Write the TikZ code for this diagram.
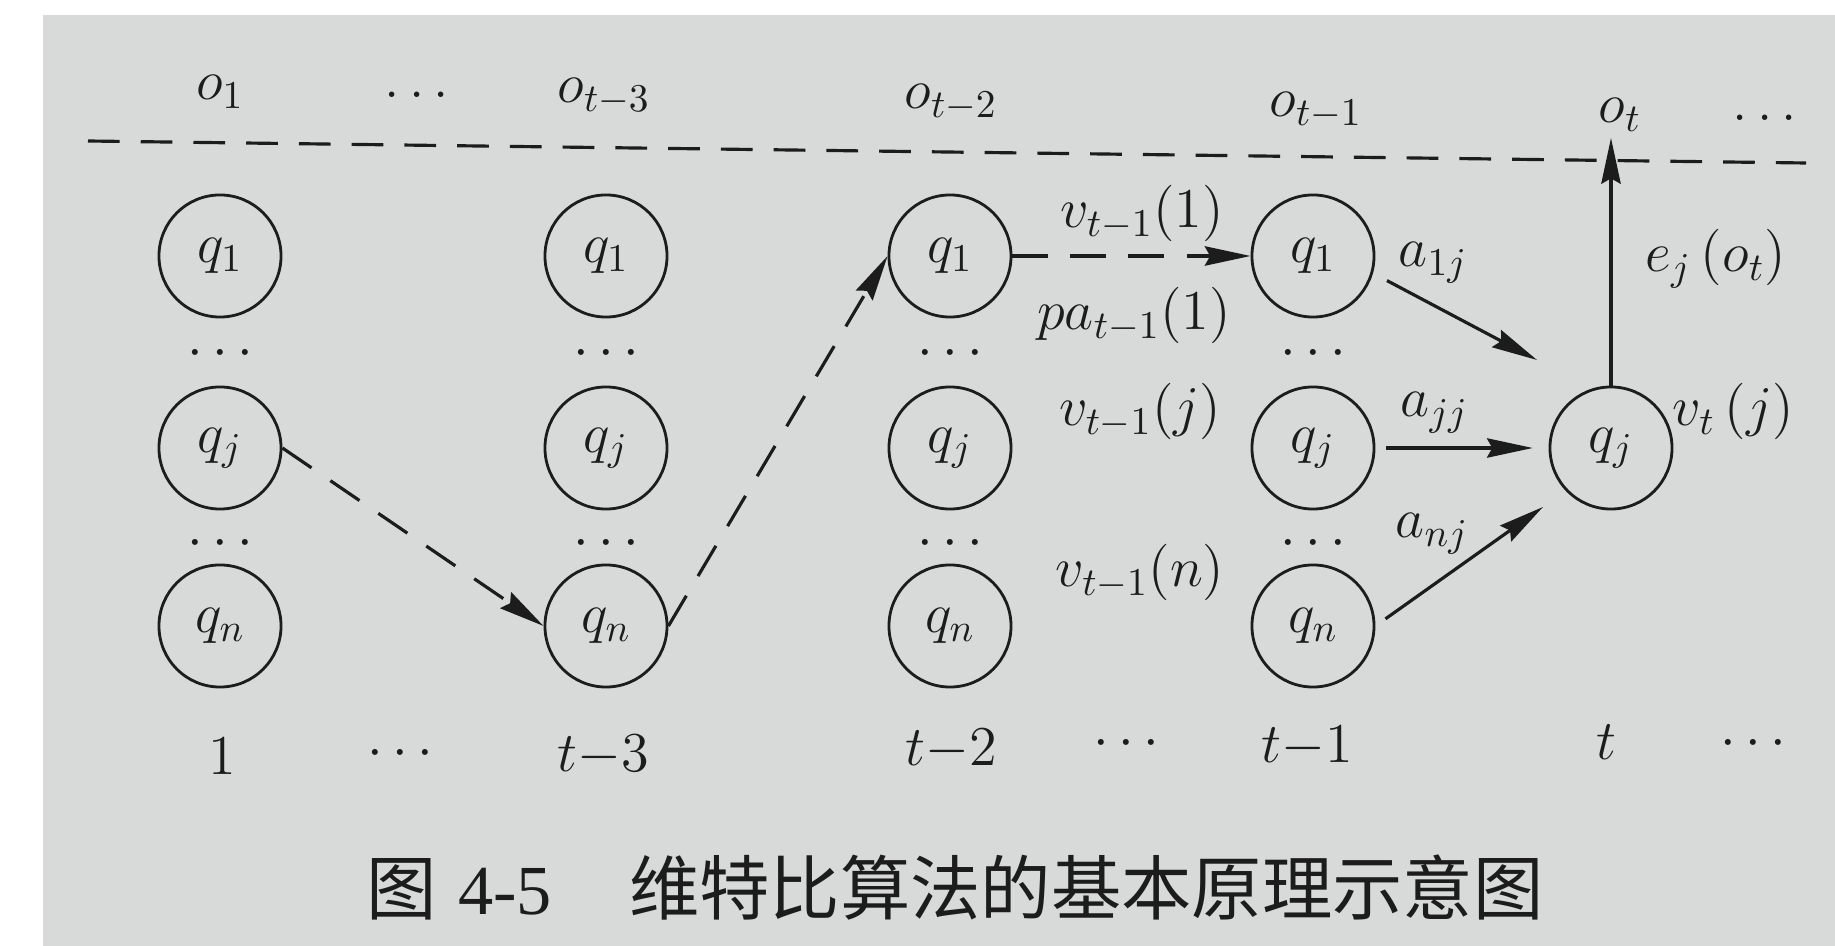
\RequirePackage{fix-cm}
\documentclass[tikz,border=0pt]{standalone}
\usepackage{fontspec}
\setmainfont{Liberation Serif}
\newfontfamily\cjk{Noto Sans CJK SC}
\usetikzlibrary{arrows.meta}
\definecolor{paper}{RGB}{216,217,217}
\definecolor{ink}{RGB}{28,28,28}

\begin{document}
\begin{tikzpicture}[x=0.01cm,y=-0.01cm,font=\fontsize{16}{19}\selectfont,color=ink,
  state/.style={draw=ink,circle,minimum size=1.22cm,inner sep=0pt,line width=0.8pt},
  lbl/.style={anchor=base,inner sep=0pt},
  lblw/.style={anchor=base west,inner sep=0pt},
  trace/.style={line width=0.9pt,dash pattern=on 10pt off 6.5pt,-{Stealth[length=13pt,width=5.5pt,inset=1.5pt]}},
  move/.style={line width=0.9pt,-{Stealth[length=13pt,width=5.5pt,inset=1.5pt]}}]
  \fill[paper] (43,15) rectangle (1835,946);
  \useasboundingbox (0,0) rectangle (1835,946);

  % observations above the line
  \draw[line width=0.9pt,dash pattern=on 9pt off 6pt] (88,141) -- (1806,163);
  \foreach \n/\x/\y/\t in {o1/220/100/{o_1},od1/417/98/{\ldots},o2/604/103/{o_{t-3}},o3/951/109/{o_{t-2}},
      o4/1316/117/{o_{t-1}},ot/1620/123/{o_t},od2/1765/121/{\ldots}}
    \node[lbl] (\n) at (\x,\y) {$\t$};

  % states per time step
  \foreach \c/\x in {1/220,2/606,3/950,4/1313}{
    \node[state] (q1\c) at (\x,256) {$q_1$};
    \node[lbl] (da\c) at (\x,367) {$\cdots$};
    \node[state] (qj\c) at (\x,448) {$q_j$};
    \node[lbl] (db\c) at (\x,557) {$\cdots$};
    \node[state] (qn\c) at (\x,626) {$q_n$};
  }
  \node[state] (qj5) at (1611,448) {$q_j$};

  % time steps
  \foreach \n/\x/\y/\t in {t1/222/775/{1},td1/400/767/{\cdots},t2/603/772/{t{-}3},t3/951/766/{t{-}2},
      td2/1126/757/{\cdots},t4/1307/763/{t{-}1},t5/1606/760/{t},td3/1753/757/{\cdots}}
    \node[lbl] (\n) at (\x,\y) {$\t$};

  % best path (dashed)
  \draw[trace] (qj1.east) -- (qn2.west);
  \draw[trace] (qn2.east) -- (q13.west);
  \draw[trace] (q13) -- (q14);
  \foreach \n/\x/\y/\t in {vu/1142/228/{v_{t-1}(1)},pa/1134/330/{pa_{t-1}(1)},
      vj/1140/426/{v_{t-1}(j)},vn/1140/587/{v_{t-1}(n)}}
    \node[lbl] (\n) at (\x,\y) {$\t$};

  % transitions into q_j at t
  \coordinate (tip1) at (1537,360);
  \coordinate (tip3) at (1543,507);
  \coordinate (up) at (1611,138);
  \draw[move,shorten <=4.5pt] (q14.-16) -- (tip1);
  \draw[move,shorten <=3pt,shorten >=4.5pt] (qj4) -- (qj5);
  \draw[move,shorten <=3.5pt] (qn4.east) -- (tip3);
  \draw[move] (qj5) -- (up);
  \node[lblw] (a1) at (1398,267) {$a_{1j}$};
  \node[lblw] (a2) at (1400,417) {$a_{jj}$};
  \node[lblw] (a3) at (1395,538) {$a_{nj}$};
  \node[lblw] (ej) at (1645,272) {$e_j\,(o_t)$};
  \node[lblw] (vt) at (1672,426) {$v_t\,(j)$};

  \node[anchor=base west,inner sep=0pt,font=\fontsize{20}{24}\selectfont] (cap) at (366,915)
    {{\cjk 图}\hspace{6pt}4-5\hspace{22pt}{\cjk 维特比算法的基本原理示意图}};
\end{tikzpicture}
\end{document}
